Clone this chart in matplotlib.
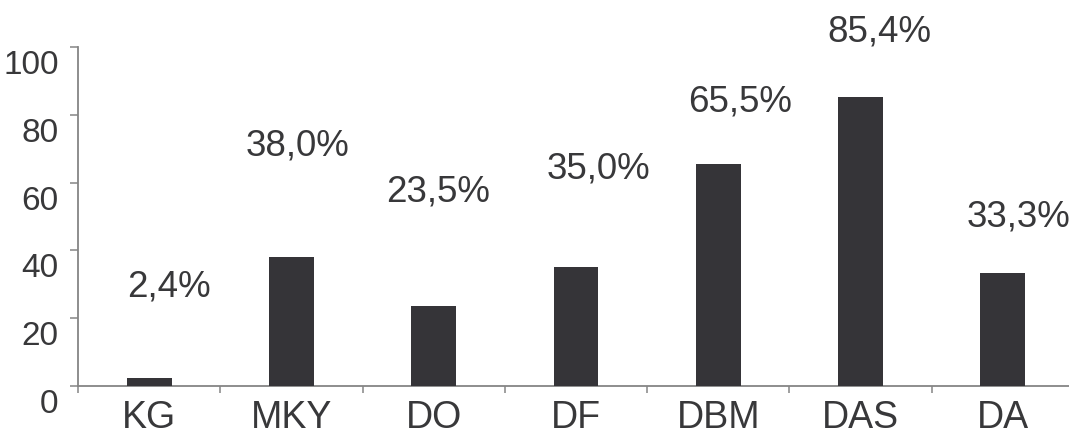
import numpy as np
import matplotlib
matplotlib.use('Agg')
import matplotlib.pyplot as plt
import matplotlib.transforms as mtransforms

categories = ['KG', 'MKY', 'DO', 'DF', 'DBM', 'DAS', 'DA']
values = [2.4, 38.0, 23.5, 35.0, 65.5, 85.4, 33.3]
value_labels = ['2,4%', '38,0%', '23,5%', '35,0%', '65,5%', '85,4%', '33,3%']
yticks = [0, 20, 40, 60, 80, 100]

# where the percentage labels sit (hand placed in the original)
label_y = [29.2, 70.8, 57.2, 64.0, 83.8, 104.4, 49.9]
label_dx = [0.14, 0.04, 0.03, 0.16, 0.15, 0.13, 0.11]

bar_color = '#353438'
text_color = '#38383a'
axis_color = '#858585'

plt.rcParams['font.family'] = ['Liberation Sans', 'DejaVu Sans']

fig = plt.figure(figsize=(10.69, 4.32), dpi=100)
ax = fig.add_axes([0.073, 0.1065, 1.0047 - 0.073, 0.891 - 0.1065])

x = np.arange(len(categories))
ax.bar(x, values, width=0.315, color=bar_color, zorder=3)

for xi, lbl, ly, dx in zip(x, value_labels, label_y, label_dx):
    ax.text(xi + dx, ly, lbl, ha='center', va='center', fontsize=26.5,
            color=text_color, clip_on=False)

ax.set_xlim(-0.5, len(categories) - 0.5)
ax.set_ylim(0, 100)

# spines
for side in ['top', 'right']:
    ax.spines[side].set_visible(False)
for side in ['left', 'bottom']:
    ax.spines[side].set_color(axis_color)
    ax.spines[side].set_linewidth(1.3)

# y axis
ax.set_yticks(yticks)
ax.set_yticklabels([str(t) for t in yticks])
ax.tick_params(axis='y', direction='out', length=6, width=1.1, color=axis_color,
               labelsize=24, labelcolor=text_color, pad=8)
shift = mtransforms.ScaledTranslation(0, -0.15, fig.dpi_scale_trans)
for lab in ax.get_yticklabels():
    lab.set_transform(lab.get_transform() + shift)

# x axis: labels at centres, small ticks between categories
ax.set_xticks(x)
ax.set_xticklabels(categories)
ax.set_xticks(np.arange(len(categories) + 1) - 0.5, minor=True)
ax.tick_params(axis='x', which='major', length=0, labelsize=27,
               labelcolor=text_color, pad=10)
ax.tick_params(axis='x', which='minor', direction='out', length=5, width=1.1,
               color=axis_color)

fig.savefig('out.png', dpi=100)
